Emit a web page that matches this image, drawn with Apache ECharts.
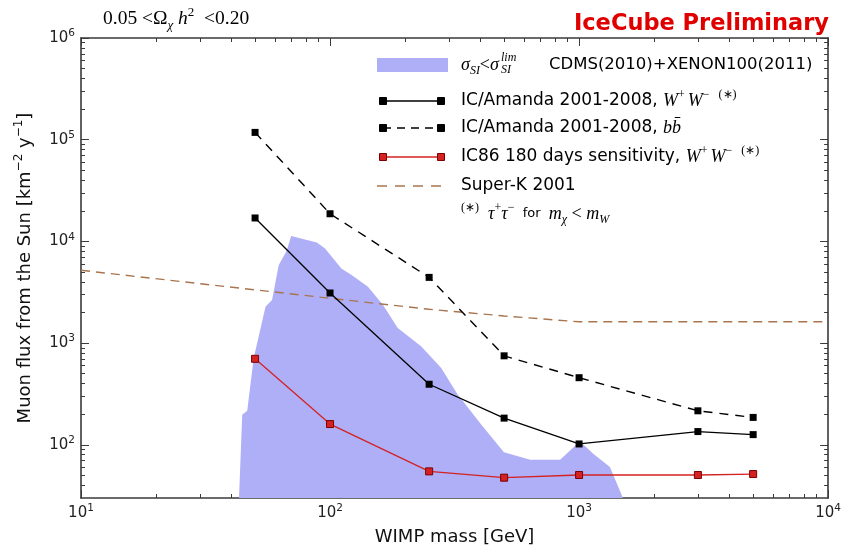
<!DOCTYPE html>
<html>
<head>
<meta charset="utf-8">
<script src="https://cdn.jsdelivr.net/npm/echarts@6/dist/echarts.min.js"></script>
<style>
  html, body { margin: 0; padding: 0; background: #fff; }
  #chart { width: 844px; height: 551px; }
</style>
</head>
<body>
<div id="chart"></div>
<script>
// WIMP masses [GeV] of the neutrino-telescope limits
const masses = [50, 100, 250, 500, 1000, 3000, 5000];
// IC/Amanda 2001-2008, W+W- (tau+tau- below m_W)  [km^-2 y^-1]
const fluxWW = [17000, 3110, 394, 183, 102, 135, 126];
// IC/Amanda 2001-2008, b bbar
const fluxBB = [118000, 18700, 4430, 750, 457, 216, 186];
// IC86 180 days sensitivity, W+W-
const fluxIC86 = [701, 160, 54.8, 47.5, 50.5, 50.5, 51.6];

// Super-K 2001
const superKMass = [10, 100, 250, 500, 1000, 10000];
const superKFlux = [5200, 2760, 2150, 1850, 1620, 1620];

// Region allowed by sigma_SI < sigma_SI^lim (CDMS 2010 + XENON100 2011), upper edge
const allowedMass = [43.1, 44.4, 46.5, 49.4, 55.1, 58.5, 62.2, 67.1, 69.8, 88.5, 95.5, 111, 122, 142, 163, 187, 232, 279, 325, 403, 499, 637, 839, 977, 1040, 1140, 1330, 1500];
const allowedFlux = [30, 198, 216, 717, 2290, 2660, 5840, 8190, 11300, 9730, 8510, 5420, 4670, 3590, 2380, 1410, 933, 573, 314, 160, 84.7, 71.2, 71.2, 101, 101, 81.5, 60.4, 30];

// Axis ranges and decade tick exponents
const xRangeExp = [1, 4];
const yRange = [30, 1e6];
const xTickExps = [1, 2, 3, 4];
const yTickExps = [2, 3, 4, 5, 6];

const lg = Math.log10;
const toPts = (xs, ys) => xs.map((x, i) => [lg(x), lg(ys[i])]);

// minor ticks at 2..9 x 10^d inside the visible range
function minorTicks(lo, hi) {
  const out = [];
  for (let d = Math.floor(lg(lo)); d < Math.ceil(lg(hi)); d++) {
    for (let k = 2; k <= 9; k++) {
      const v = k * Math.pow(10, d);
      if (v > lo && v < hi) out.push(lg(v));
    }
  }
  return out;
}
const xMinor = minorTicks(Math.pow(10, xRangeExp[0]), Math.pow(10, xRangeExp[1]));
const yMinor = minorTicks(yRange[0], yRange[1]);

const SANS = 'DejaVu Sans';
const MATH = 'Liberation Serif';
const AX = '#3a3a3a';

const tickRich = {
  b: { fontFamily: SANS, fontSize: 15, color: '#222', lineHeight: 20 },
  s: { fontFamily: SANS, fontSize: 10.5, color: '#222', lineHeight: 10, verticalAlign: 'top' }
};
const expLabel = v => '{b|10}{s|' + Math.round(v) + '}';

function xAx(pos, major) {
  return {
    type: 'value', position: pos, min: xRangeExp[0], max: xRangeExp[1],
    axisLine: { show: major, onZero: false, lineStyle: { color: AX, width: 1.6 } },
    axisTick: { show: true, inside: true, length: major ? 8 : 4,
      customValues: major ? xTickExps : xMinor, lineStyle: { color: AX, width: 1 } },
    axisLabel: { show: major && pos === 'bottom', customValues: xTickExps, formatter: expLabel,
      margin: 5, rich: tickRich },
    splitLine: { show: false }
  };
}
function yAx(pos, major) {
  return {
    type: 'value', position: pos, min: lg(yRange[0]), max: lg(yRange[1]),
    axisLine: { show: major, onZero: false, lineStyle: { color: AX, width: 1.6 } },
    axisTick: { show: true, inside: true, length: major ? 8 : 4,
      customValues: major ? yTickExps : yMinor, lineStyle: { color: AX, width: 1 } },
    axisLabel: { show: major && pos === 'left', customValues: yTickExps, formatter: expLabel,
      margin: 6, rich: tickRich },
    splitLine: { show: false }
  };
}

const xAxes = [xAx('bottom', true), xAx('bottom', false), xAx('top', true), xAx('top', false)];
Object.assign(xAxes[0], {
  name: 'WIMP mass [GeV]', nameLocation: 'middle', nameGap: 30,
  nameTextStyle: { fontFamily: SANS, fontSize: 18, color: '#111' }
});
const yAxes = [yAx('left', true), yAx('left', false), yAx('right', true), yAx('right', false)];
Object.assign(yAxes[0], {
  name: 'Muon flux from the Sun [km{s|−2} y{s|−1}]', nameLocation: 'middle', nameGap: 44, nameRotate: 90,
  nameTextStyle: { fontFamily: SANS, fontSize: 18, color: '#111', lineHeight: 24,
    rich: { s: { fontFamily: SANS, fontSize: 12, color: '#111', lineHeight: 12, verticalAlign: 'top' } } }
});

const BLUE = '#afaff7';
const BROWN = '#a8754f';
const RED = '#d42222';

// legend drawing helpers
const LX1 = 383, LX2 = 441, TX = 461;
function legendLine(y, color, dash, fill, edge) {
  const els = [{ type: 'line', z: 10, shape: { x1: LX1, y1: y, x2: LX2, y2: y },
    style: { stroke: color, lineWidth: 1.4, lineDash: dash || null } }];
  if (fill) {
    [LX1, LX2].forEach(x => els.push({ type: 'rect', z: 11,
      shape: { x: x - 3.5, y: y - 3.5, width: 7, height: 7 },
      style: { fill: fill, stroke: edge || fill, lineWidth: 1 } }));
  }
  return els;
}
const legRich = {
  t: { fontFamily: SANS, fontSize: 17, fill: '#000', lineHeight: 24 },
  c: { fontFamily: SANS, fontSize: 16.5, fill: '#000', lineHeight: 24 },
  f: { fontFamily: SANS, fontSize: 13, fill: '#000', lineHeight: 24 },
  m: { fontFamily: MATH, fontStyle: 'italic', fontSize: 18, fill: '#000', lineHeight: 24 },
  r: { fontFamily: MATH, fontSize: 18, fill: '#000', lineHeight: 24 },
  sp: { fontFamily: MATH, fontSize: 12, fill: '#000', lineHeight: 24 },
  sup: { fontFamily: MATH, fontSize: 12, fill: '#000', lineHeight: 12, verticalAlign: 'top' },
  sub: { fontFamily: MATH, fontStyle: 'italic', fontSize: 12, fill: '#000', lineHeight: 12, verticalAlign: 'bottom' }
};
const titleRich = {
  r: { fontFamily: MATH, fontSize: 19.5, fill: '#000', lineHeight: 26 },
  m: { fontFamily: MATH, fontStyle: 'italic', fontSize: 19.5, fill: '#000', lineHeight: 26 },
  sup: { fontFamily: MATH, fontSize: 13, fill: '#000', lineHeight: 13, verticalAlign: 'top' },
  sub: { fontFamily: MATH, fontStyle: 'italic', fontSize: 13, fill: '#000', lineHeight: 13, verticalAlign: 'bottom' }
};
function legText(x, y, text) {
  return { type: 'text', z: 10, x: x, y: y,
    style: { text: text, rich: legRich, fontFamily: SANS, fontSize: 17, fill: '#000',
      verticalAlign: 'middle', textVerticalAlign: 'middle', align: 'left' } };
}
function smallMath(x, y, text) {
  return { type: 'text', z: 10, x: x, y: y,
    style: { text: text, fontFamily: MATH, fontStyle: 'italic', fontSize: 12, fill: '#000',
      verticalAlign: 'middle', textVerticalAlign: 'middle' } };
}

const rowY = [65, 101, 128, 157, 186, 214];
const graphics = [].concat(
  [{ type: 'rect', z: 10, shape: { x: 377, y: rowY[0] - 7, width: 71, height: 14 }, style: { fill: BLUE } }],
  legendLine(rowY[1], '#000', null, '#000'),
  legendLine(rowY[2], '#000', [8, 6], '#000'),
  legendLine(rowY[3], RED, null, RED, '#7a0000'),
  [{ type: 'line', z: 10, shape: { x1: 377, y1: rowY[4], x2: 441, y2: rowY[4] },
     style: { stroke: BROWN, lineWidth: 1.4, lineDash: [10, 8] } }],
  [
    legText(TX, rowY[0], '{m|σ}{sub|SI}{r|<}{m|σ}'),
    smallMath(501, rowY[0] - 7, 'lim'),
    smallMath(501, rowY[0] + 5, 'SI'),
    legText(549, rowY[0], '{c|CDMS(2010)+XENON100(2011)}'),
    legText(TX, rowY[1], '{t|IC/Amanda 2001-2008, }{m|W}{sup|+}{sp| }{m|W}{sup|−}{sp|   }{sup|(∗)}'),
    legText(TX, rowY[2], '{t|IC/Amanda 2001-2008, }{m|b}{m|b̄}'),
    legText(TX, rowY[3], '{t|IC86 180 days sensitivity, }{m|W}{sup|+}{sp| }{m|W}{sup|−}{sp|   }{sup|(∗)}'),
    legText(TX, rowY[4], '{t|Super-K 2001}'),
    legText(TX, rowY[5], '{sup|(∗)}{sp|   }{m|τ}{sup|+}{m|τ}{sup|−}{f|  for  }{m|m}{sub|χ}{r| < }{m|m}{sub|W}'),
    // headline texts
    { type: 'text', z: 10, x: 103, y: 19,
      style: { text: '{r|0.05 <Ω}{sub|χ}{m| h}{sup|2}{r|  <0.20}', rich: titleRich,
        verticalAlign: 'middle', textVerticalAlign: 'middle' } },
    { type: 'text', z: 10, x: 829, y: 24,
      style: { text: 'IceCube Preliminary', fontFamily: SANS, fontWeight: 'bold', fontSize: 22.5,
        fill: '#e00000', align: 'right', textAlign: 'right', verticalAlign: 'middle', textVerticalAlign: 'middle' } }
  ]
);

const chart = echarts.init(document.getElementById('chart'), null, { renderer: 'canvas' });
chart.setOption({
  animation: false,
  backgroundColor: '#fff',
  grid: { left: 81, right: 11, top: 38, bottom: 50, containLabel: false },
  xAxis: xAxes,
  yAxis: yAxes,
  graphic: { elements: graphics },
  series: [
    {
      name: 'σSI<σSI lim CDMS(2010)+XENON100(2011)', type: 'line', z: 1,
      data: toPts(allowedMass, allowedFlux), symbol: 'none', smooth: false,
      lineStyle: { width: 0, color: BLUE }, itemStyle: { color: BLUE },
      areaStyle: { color: BLUE, opacity: 1, origin: 'start' }
    },
    {
      name: 'Super-K 2001', type: 'line', z: 3,
      data: toPts(superKMass, superKFlux), symbol: 'none',
      lineStyle: { color: BROWN, width: 1.4, type: [9, 6] }
    },
    {
      name: 'IC/Amanda 2001-2008, bb', type: 'line', z: 4,
      data: toPts(masses, fluxBB), symbol: 'rect', symbolSize: 7,
      lineStyle: { color: '#000', width: 1.4, type: [9, 7] }, itemStyle: { color: '#000' }
    },
    {
      name: 'IC/Amanda 2001-2008, WW', type: 'line', z: 5,
      data: toPts(masses, fluxWW), symbol: 'rect', symbolSize: 7,
      lineStyle: { color: '#000', width: 1.3 }, itemStyle: { color: '#000' }
    },
    {
      name: 'IC86 180 days sensitivity, WW', type: 'line', z: 6,
      data: toPts(masses, fluxIC86), symbol: 'rect', symbolSize: 7,
      lineStyle: { color: RED, width: 1.3 }, itemStyle: { color: RED, borderColor: '#7a0000', borderWidth: 1 }
    }
  ]
});
</script>
</body>
</html>
